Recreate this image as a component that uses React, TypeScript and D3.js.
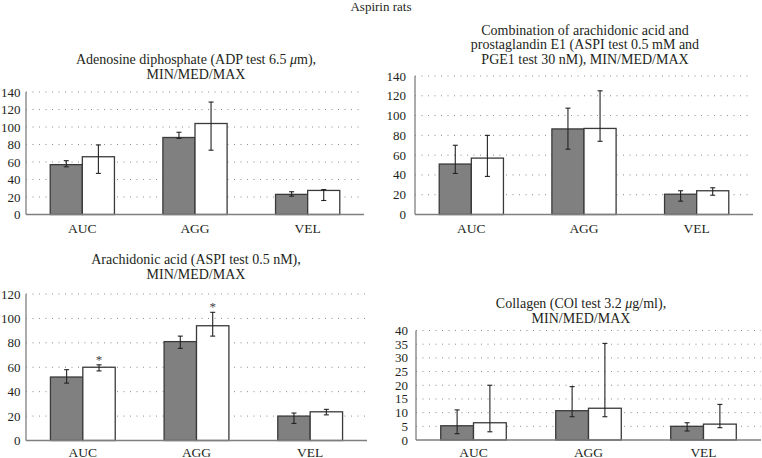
import React from "react";
import * as d3 from "d3";

const categories = ["AUC", "AGG", "VEL"];

// Panel 1: ADP
const adpDark = [57, 88, 23];
const adpDarkMin = [54.5, 87, 21];
const adpDarkMax = [61.5, 94, 26];
const adpWhite = [66, 104, 27.5];
const adpWhiteMin = [47, 73.5, 16];
const adpWhiteMax = [79.5, 128.5, 28.5];

// Panel 2: AA + PGE1
const comboDark = [51, 86.5, 20.5];
const comboDarkMin = [41.5, 66, 13.5];
const comboDarkMax = [70, 107.5, 24];
const comboWhite = [57, 87, 24];
const comboWhiteMin = [38.5, 74, 19.5];
const comboWhiteMax = [80, 125, 27];

// Panel 3: Arachidonic acid
const aaDark = [52, 81, 20];
const aaDarkMin = [47, 75.5, 14];
const aaDarkMax = [58, 85.5, 22.5];
const aaWhite = [60, 94, 23.5];
const aaWhiteMin = [57, 85.5, 21];
const aaWhiteMax = [62, 105, 25.5];
const aaStarsWhite = [true, true, false];

// Panel 4: Collagen
const colDark = [5.2, 10.7, 5];
const colDarkMin = [2.3, 8.5, 3.3];
const colDarkMax = [11, 19.5, 6.3];
const colWhite = [6.3, 11.6, 5.8];
const colWhiteMin = [3, 8.5, 4.5];
const colWhiteMax = [20, 35.3, 13];

const ticks140 = [0, 20, 40, 60, 80, 100, 120, 140];
const ticks120 = [0, 20, 40, 60, 80, 100, 120];
const ticks40 = [0, 5, 10, 15, 20, 25, 30, 35, 40];

const mainTitle = "Aspirin rats";
// each title line is split on "μ" so the Greek letter can be set in italics
const titleADP = ["Adenosine diphosphate (ADP test 6.5 \u03bcm),", "MIN/MED/MAX"];
const titleCombo = [
  "Combination of arachidonic acid and",
  "prostaglandin E1 (ASPI test 0.5 mM and",
  "PGE1 test 30 nM), MIN/MED/MAX",
];
const titleAA = ["Arachidonic acid (ASPI test 0.5 nM),", "MIN/MED/MAX"];
const titleCol = ["Collagen (COl test 3.2 \u03bcg/ml),", "MIN/MED/MAX"];

const FONT = "'Liberation Serif', 'Times New Roman', serif";

type PanelProps = {
  x0: number;
  x1: number;
  yTop: number;
  yBottom: number;
  ticks: number[];
  title: string[];
  titleX: number;
  titleY: number;
  dark: number[];
  darkMin: number[];
  darkMax: number[];
  white: number[];
  whiteMin: number[];
  whiteMax: number[];
  starsWhite?: boolean[];
  labelY: number;
  tickGap: number;
};

function TitleLine({ text }: { text: string }) {
  const parts = text.split("\u03bc");
  if (parts.length === 1) return <>{text}</>;
  return (
    <>
      {parts.map((pt, i) => (
        <React.Fragment key={i}>
          {i > 0 && <tspan fontStyle="italic">{"\u03bc"}</tspan>}
          {pt}
        </React.Fragment>
      ))}
    </>
  );
}

function Panel(p: PanelProps) {
  const maxV = p.ticks[p.ticks.length - 1];
  const y = d3.scaleLinear().domain([0, maxV]).range([p.yBottom, p.yTop]);
  const x = d3.scaleBand<string>().domain(categories).range([p.x0, p.x1]).padding(0);
  const bw = x.bandwidth();
  const barW = bw * 0.285;
  const series = [
    { vals: p.dark, mins: p.darkMin, maxs: p.darkMax, fill: "#808080", off: -barW },
    { vals: p.white, mins: p.whiteMin, maxs: p.whiteMax, fill: "#ffffff", off: 0 },
  ];
  return (
    <g>
      {p.title.map((t, i) => (
        <text
          key={i}
          x={p.titleX}
          y={p.titleY + i * 14.5}
          textAnchor="middle"
          fontFamily={FONT}
          fontSize={14}
          fill="#231f20"
        >
          <TitleLine text={t} />
        </text>
      ))}
      {p.ticks.map((t) => (
        <g key={t}>
          {t > 0 && (
            <line
              x1={p.x0}
              x2={p.x1}
              y1={y(t)}
              y2={y(t)}
              stroke="#8a8a8a"
              strokeWidth={1}
              strokeDasharray="1,5.5"
            />
          )}
          <text
            x={p.x0 - p.tickGap}
            y={y(t)}
            dy="0.35em"
            textAnchor="end"
            fontFamily={FONT}
            fontSize={13}
            fill="#231f20"
          >
            {t}
          </text>
        </g>
      ))}
      {categories.map((c, i) => {
        const cx = (x(c) as number) + bw / 2;
        return (
          <g key={c}>
            {series.map((s, k) => {
              const bx = cx + s.off;
              return (
                <g key={k}>
                  <rect
                    x={bx}
                    y={y(s.vals[i])}
                    width={barW}
                    height={y(0) - y(s.vals[i])}
                    fill={s.fill}
                    stroke="#3a3a3a"
                    strokeWidth={1.3}
                  />
                  <line
                    x1={bx + barW / 2}
                    x2={bx + barW / 2}
                    y1={y(s.mins[i])}
                    y2={y(s.maxs[i])}
                    stroke="#222"
                    strokeWidth={1.1}
                  />
                  <line
                    x1={bx + barW / 2 - 2.5}
                    x2={bx + barW / 2 + 2.5}
                    y1={y(s.mins[i])}
                    y2={y(s.mins[i])}
                    stroke="#222"
                    strokeWidth={1.1}
                  />
                  <line
                    x1={bx + barW / 2 - 2.5}
                    x2={bx + barW / 2 + 2.5}
                    y1={y(s.maxs[i])}
                    y2={y(s.maxs[i])}
                    stroke="#222"
                    strokeWidth={1.1}
                  />
                  {k === 1 && p.starsWhite && p.starsWhite[i] && (
                    <text
                      x={bx + barW / 2}
                      y={y(s.maxs[i]) - 1}
                      textAnchor="middle"
                      fontFamily={FONT}
                      fontSize={13}
                      fill="#444"
                    >
                      *
                    </text>
                  )}
                </g>
              );
            })}
            <text
              x={cx}
              y={p.labelY}
              textAnchor="middle"
              fontFamily={FONT}
              fontSize={13.5}
              fill="#231f20"
            >
              {c}
            </text>
          </g>
        );
      })}
      <line x1={p.x0} x2={p.x0} y1={p.yTop} y2={p.yBottom} stroke="#7f7f7f" strokeWidth={1.3} />
      <line x1={p.x0} x2={p.x1} y1={p.yBottom} y2={p.yBottom} stroke="#7f7f7f" strokeWidth={1.3} />
    </g>
  );
}

export default function App() {
  return (
    <svg
      width={762}
      height={458}
      style={{ position: "absolute", left: 0, top: 0, background: "#fff" }}
    >
      <text x={381} y={11} textAnchor="middle" fontFamily={FONT} fontSize={13} fill="#231f20">
        {mainTitle}
      </text>
      <Panel
        x0={26}
        x1={364}
        yTop={92}
        yBottom={214.5}
        ticks={ticks140}
        title={titleADP}
        titleX={196}
        titleY={64}
        dark={adpDark}
        darkMin={adpDarkMin}
        darkMax={adpDarkMax}
        white={adpWhite}
        whiteMin={adpWhiteMin}
        whiteMax={adpWhiteMax}
        labelY={232.5}
        tickGap={5.5}
      />
      <Panel
        x0={415}
        x1={753}
        yTop={76}
        yBottom={214.5}
        ticks={ticks140}
        title={titleCombo}
        titleX={585}
        titleY={34.5}
        dark={comboDark}
        darkMin={comboDarkMin}
        darkMax={comboDarkMax}
        white={comboWhite}
        whiteMin={comboWhiteMin}
        whiteMax={comboWhiteMax}
        labelY={232.5}
        tickGap={9}
      />
      <Panel
        x0={26}
        x1={367}
        yTop={294}
        yBottom={440.5}
        ticks={ticks120}
        title={titleAA}
        titleX={196}
        titleY={264}
        dark={aaDark}
        darkMin={aaDarkMin}
        darkMax={aaDarkMax}
        white={aaWhite}
        whiteMin={aaWhiteMin}
        whiteMax={aaWhiteMax}
        starsWhite={aaStarsWhite}
        labelY={456.5}
        tickGap={5.5}
      />
      <Panel
        x0={416}
        x1={761}
        yTop={330.5}
        yBottom={440}
        ticks={ticks40}
        title={titleCol}
        titleX={581}
        titleY={308}
        dark={colDark}
        darkMin={colDarkMin}
        darkMax={colDarkMax}
        white={colWhite}
        whiteMin={colWhiteMin}
        whiteMax={colWhiteMax}
        labelY={456.5}
        tickGap={8}
      />
    </svg>
  );
}
